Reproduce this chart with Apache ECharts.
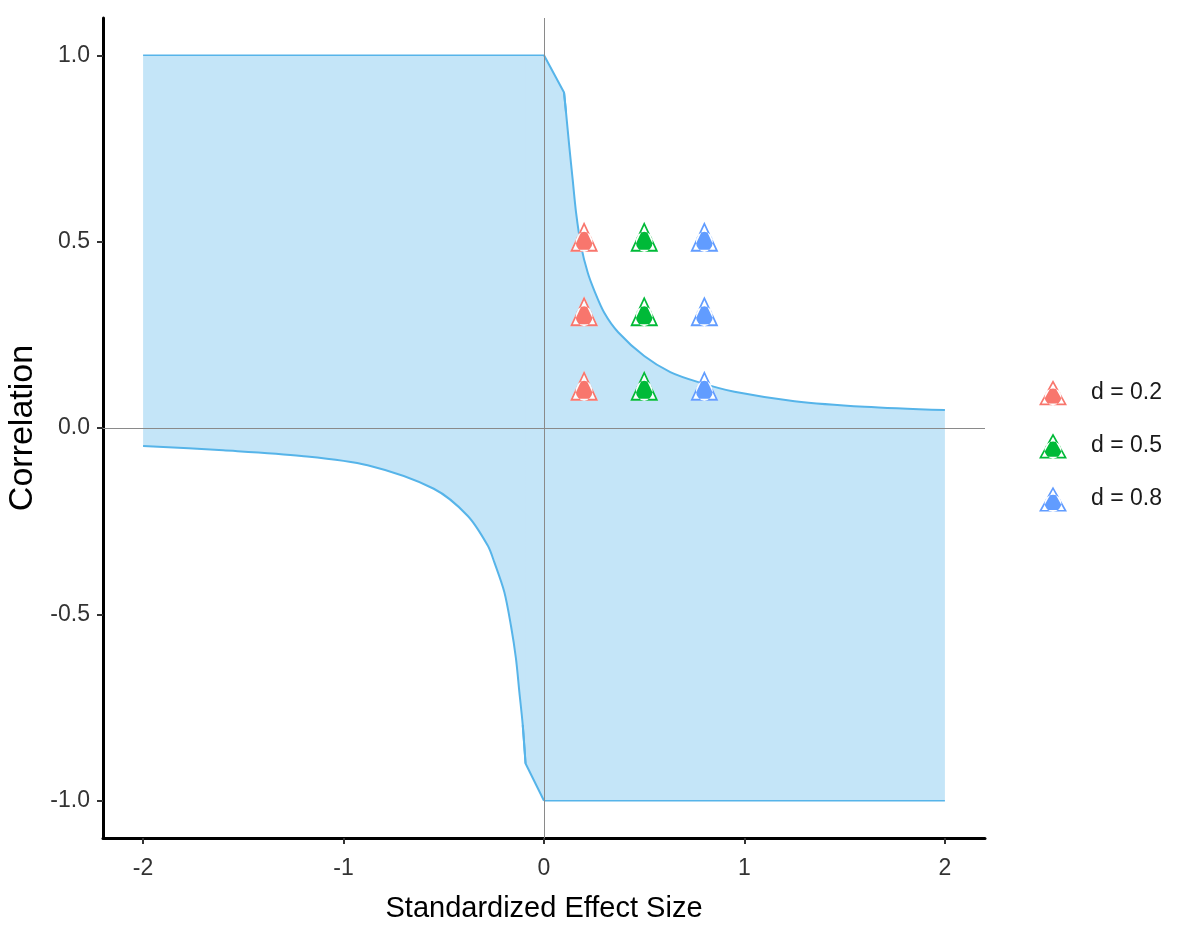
<!DOCTYPE html>
<html>
<head>
<meta charset="utf-8">
<script src="https://cdn.jsdelivr.net/npm/echarts@6/dist/echarts.min.js"></script>
<style>
  html, body { margin: 0; padding: 0; background: #fff; }
  #chart { width: 1181px; height: 934px; }
</style>
</head>
<body>
<div id="chart"></div>
<script>
// band edges
// x > 0: upper edge (the band fills down to -1 here)
var upKinkX = [0, 0.1, 0.11];
var upKinkY = [1, 0.9, 0.846];
var upCurveX = [0.1, 0.11, 0.126, 0.143, 0.16, 0.185, 0.218, 0.25, 0.3, 0.37, 0.5, 0.63, 0.77, 0.95, 1.25, 1.6, 2.0];
var upCurveY = [0.9, 0.846, 0.756, 0.667, 0.578, 0.488, 0.417, 0.37, 0.31, 0.257, 0.193, 0.15, 0.123, 0.097, 0.072, 0.057, 0.048];
// x < 0: lower edge (the band fills up to 1 here)
var lowCurveX = [-2, -1.6, -1.21, -0.88, -0.55, -0.38, -0.28, -0.248, -0.198, -0.165, -0.14, -0.123, -0.106, -0.092];
var lowCurveY = [-0.048, -0.06, -0.075, -0.1, -0.163, -0.236, -0.316, -0.36, -0.44, -0.53, -0.618, -0.708, -0.797, -0.9];
var lowKinkX = [-0.106, -0.092, 0];
var lowKinkY = [-0.797, -0.9, -1];
// flat edges
var topX = [-2, 0];
var topY = [1, 1];
var bottomX = [0, 2];
var bottomY = [-1, -1];

// points: effect size d by correlation r
var groupNames = ['d = 0.2', 'd = 0.5', 'd = 0.8'];
var dValues = [0.2, 0.5, 0.8];
var corrValues = [0.1, 0.3, 0.5];
var groupColors = ['#F8766D', '#00BA38', '#619CFF'];

var xTicks = [-2, -1, 0, 1, 2];
var yTicks = [-1, -0.5, 0, 0.5, 1];
var refLines = [0];

var lineColor = '#56B4E9';
var fillColor = '#C4E5F8';
var font = 'Liberation Sans';

// open triangle ring + filled circle
var markerPath = 'path://M50 0 L100 90 L0 90 Z M50 12.3 L10.2 84 L89.8 84 Z M20 60 a30 30 0 1 0 60 0 a30 30 0 1 0 -60 0 Z';
var triPath = 'path://M50 0 L100 90 L0 90 Z';

function pairs(xs, ys) {
    var out = [];
    for (var i = 0; i < xs.length; i++) out.push([xs[i], ys[i]]);
    return out;
}

function bandPart(xs, ys, origin, smooth) {
    return {
        type: 'line', z: 1, silent: true, showSymbol: false,
        smooth: smooth,
        lineStyle: { color: lineColor, width: 2 },
        areaStyle: { color: fillColor, opacity: 1, origin: origin },
        data: pairs(xs, ys)
    };
}

function edge(xs, ys) {
    return {
        type: 'line', z: 3, silent: true, showSymbol: false,
        lineStyle: { color: lineColor, width: 1.5 },
        data: pairs(xs, ys)
    };
}

var chart = echarts.init(document.getElementById('chart'));

var series = [];
// kink pieces first so the curved pieces paint over the shared strip
series.push(bandPart(lowKinkX, lowKinkY, 1, false));
series.push(bandPart(upKinkX, upKinkY, -1, false));
series.push(bandPart(lowCurveX, lowCurveY, 1, 0.3));
series.push(bandPart(upCurveX, upCurveY, -1, 0.3));
series.push(edge(topX, topY));
series.push(edge(bottomX, bottomY));
// reference lines at 0
series.push({
    type: 'line',
    z: 2,
    data: [],
    markLine: {
        silent: true,
        symbol: ['none', 'none'],
        label: { show: false },
        lineStyle: { color: '#8a8a8a', width: 1, type: 'solid' },
        data: [{ xAxis: refLines[0] }, { yAxis: refLines[0] }]
    }
});
// markers
for (var g = 0; g < groupNames.length; g++) {
    var pts = [];
    for (var k = 0; k < corrValues.length; k++) pts.push([dValues[g], corrValues[k]]);
    series.push({
        type: 'scatter', z: 4, silent: true,
        symbol: triPath, symbolSize: [28, 30], symbolOffset: [0, -5],
        itemStyle: { color: '#ffffff', opacity: 0.9 },
        data: pts
    });
    series.push({
        name: groupNames[g],
        type: 'scatter', z: 5,
        symbol: markerPath, symbolSize: [28, 30], symbolOffset: [0, -5],
        itemStyle: { color: groupColors[g], opacity: 1 },
        data: pts
    });
}

var option = {
    animation: false,
    backgroundColor: '#fff',
    grid: { left: 103, right: 196, top: 18, bottom: 96, outerBoundsMode: 'none', containLabel: false },
    legend: {
        data: groupNames,
        orient: 'vertical',
        left: 1034,
        top: 375,
        itemWidth: 28,
        itemHeight: 30,
        itemGap: 28,
        textStyle: { fontFamily: font, fontSize: 23, color: '#1a1a1a', padding: [0, 0, 0, 19] }
    },
    xAxis: {
        type: 'value',
        min: -2.2,
        max: 2.2,
        name: 'Standardized Effect Size',
        nameLocation: 'middle',
        nameGap: 56,
        nameTextStyle: { fontFamily: font, fontSize: 29, color: '#000' },
        axisLine: { onZero: false, lineStyle: { color: '#000', width: 3 } },
        axisTick: { show: true, length: 6, customValues: xTicks, lineStyle: { color: '#333', width: 2 } },
        axisLabel: { customValues: xTicks, margin: 19, fontFamily: font, fontSize: 23, color: '#333' },
        splitLine: { show: false }
    },
    yAxis: {
        type: 'value',
        min: -1.1,
        max: 1.1,
        name: 'Correlation',
        nameLocation: 'middle',
        nameGap: 62,
        nameTextStyle: { fontFamily: font, fontSize: 34, color: '#000' },
        axisLine: { onZero: false, lineStyle: { color: '#000', width: 3 } },
        axisTick: { show: true, length: 6, customValues: yTicks, lineStyle: { color: '#333', width: 2 } },
        axisLabel: {
            customValues: yTicks, margin: 13, fontFamily: font, fontSize: 23, color: '#333',
            formatter: function (v) { return v.toFixed(1); }
        },
        splitLine: { show: false }
    },
    series: series
};
chart.setOption(option);
</script>
</body>
</html>
